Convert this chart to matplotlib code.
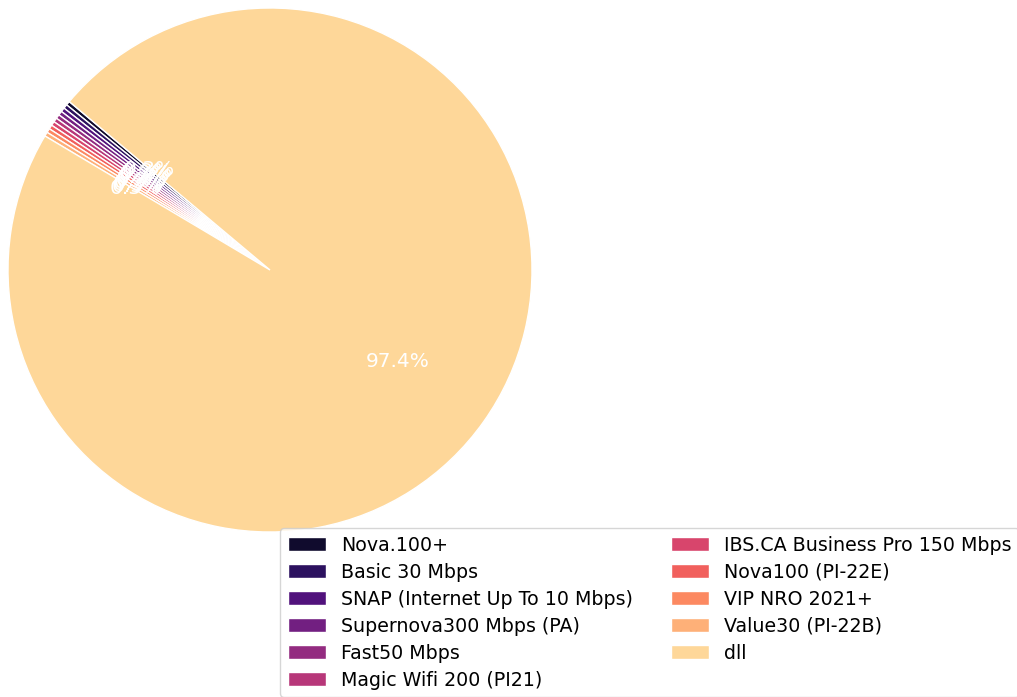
import matplotlib
matplotlib.use('Agg')
import matplotlib.pyplot as plt
import seaborn as sns

# plan names and subscriber counts
labels = ['Nova.100+', 'Basic 30 Mbps', 'SNAP (Internet Up To 10 Mbps)',
          'Supernova300 Mbps (PA)', 'Fast50 Mbps', 'Magic Wifi 200 (PI21)',
          'IBS.CA Business Pro 150 Mbps', 'Nova100 (PI-22E)', 'VIP NRO 2021+',
          'Value30 (PI-22B)', 'dll']
counts = [1, 1, 1, 1, 1, 1, 1, 1, 1, 1, 380]

colors = sns.color_palette('magma', len(labels))

fig = plt.figure(figsize=(10.17, 6.97), dpi=100)
ax = fig.add_axes([8 / 1017, 165 / 697, 524 / 1017, 524 / 697])

wedges, texts, autotexts = ax.pie(
    counts, colors=colors, autopct='%1.1f%%', startangle=140,
    wedgeprops={'edgecolor': 'white', 'linewidth': 1},
    textprops={'color': 'white', 'fontsize': 14.5})
ax.set_aspect('equal')
ax.set_xlim(-1, 1)
ax.set_ylim(-1, 1)

fig.legend(wedges, labels, ncol=2, fontsize=13.7, loc='upper left',
           bbox_to_anchor=(280 / 1017, 1 - 528 / 697), borderaxespad=0,
           columnspacing=2.0, labelspacing=0.42)

fig.savefig('out.png', dpi=100)
